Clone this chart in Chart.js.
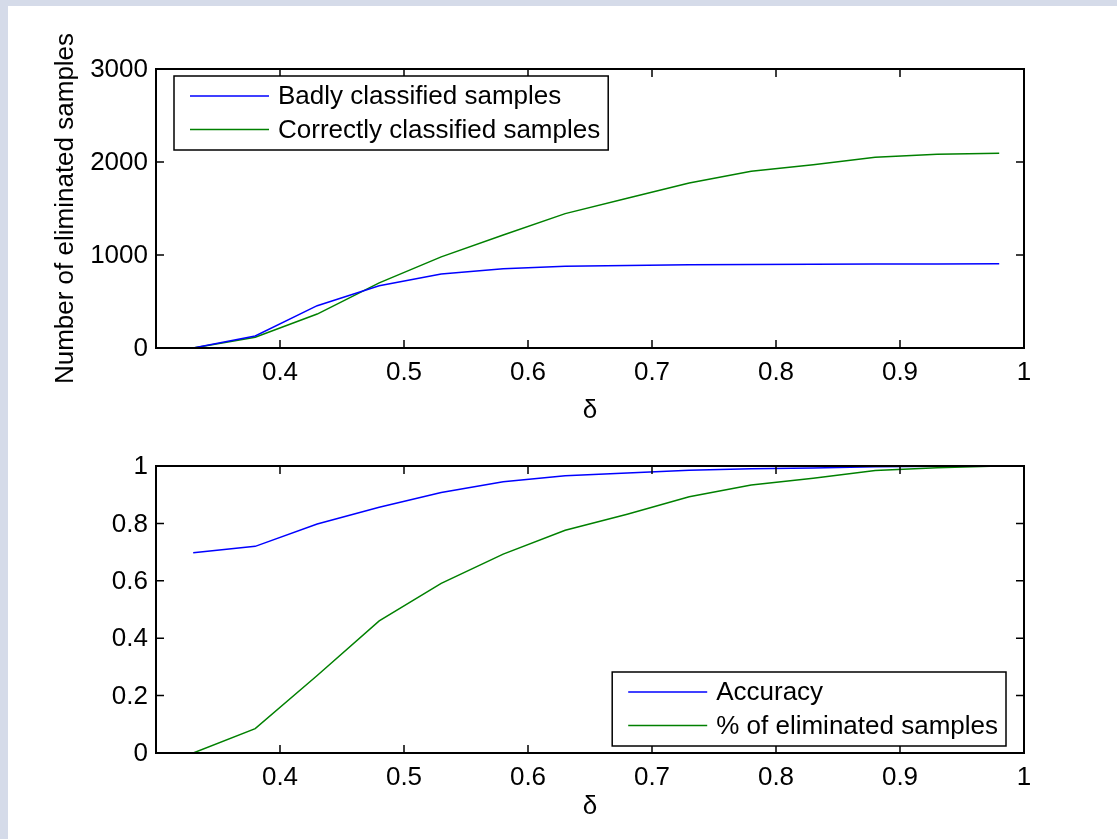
<!DOCTYPE html>
<html lang="en">
<head>
    <meta charset="UTF-8">
    <title>Eliminated samples vs delta</title>
    <script src="https://cdn.jsdelivr.net/npm/chart.js"></script>
    <style>
        body { margin: 0; background: #d5dbe9; width: 1117px; height: 839px; overflow: hidden; position: relative; }
        .panel { position: absolute; left: 8px; top: 6px; right: 0; bottom: 0; background: #fff; }
        canvas { position: absolute; left: 0; }
    </style>
</head>
<body>
    <div class="panel"></div>
    <canvas id="countChart" width="1117" height="440" style="top:0"></canvas>
    <canvas id="ratioChart" width="1117" height="399" style="top:440px"></canvas>
    <script>
// delta values on the x axis
const delta = [0.33, 0.38, 0.43, 0.48, 0.53, 0.58, 0.63, 0.68, 0.73, 0.78, 0.83, 0.88, 0.93, 0.98];

// top plot: number of eliminated samples
const badlyClassified = [0, 130, 455, 670, 795, 853, 878, 888, 895, 898, 900, 902, 903, 905];
const correctlyClassified = [0, 115, 365, 700, 980, 1215, 1445, 1610, 1775, 1900, 1970, 2050, 2083, 2095];

// bottom plot
const accuracy = [0.698, 0.72, 0.798, 0.856, 0.908, 0.945, 0.966, 0.976, 0.985, 0.99, 0.993, 0.997, 0.999, 1.0];
const eliminatedShare = [0, 0.085, 0.27, 0.46, 0.591, 0.693, 0.776, 0.832, 0.893, 0.934, 0.957, 0.984, 0.994, 1.0];

// ticks
const xTickValues = [0.4, 0.5, 0.6, 0.7, 0.8, 0.9, 1];
const xTickLabels = ['0.4', '0.5', '0.6', '0.7', '0.8', '0.9', '1'];
const countTickValues = [0, 1000, 2000, 3000];
const countTickLabels = ['0', '1000', '2000', '3000'];
const ratioTickValues = [0, 0.2, 0.4, 0.6, 0.8, 1];
const ratioTickLabels = ['0', '0.2', '0.4', '0.6', '0.8', '1'];

const BLUE = 'rgb(0,0,255)';
const GREEN = 'rgb(0,128,0)';
const FONT = 'Liberation Sans, Arial, Helvetica, sans-serif';
const FS = 26;

function points(ys) {
    return delta.map((d, i) => ({ x: d, y: ys[i] }));
}

// box, inward ticks and legend, MATLAB style
const framePlugin = {
    id: 'frame',
    afterDatasetsDraw(chart, args, opts) {
        const { ctx, chartArea: a, scales } = chart;
        const x = scales.x, y = scales.y;
        ctx.save();
        ctx.strokeStyle = '#000';
        ctx.lineWidth = 1.5;
        ctx.beginPath();
        xTickValues.forEach(v => {
            const px = x.getPixelForValue(v);
            if (px >= a.right - 1) return;
            ctx.moveTo(px, a.bottom); ctx.lineTo(px, a.bottom - 8);
            ctx.moveTo(px, a.top); ctx.lineTo(px, a.top + 8);
        });
        y.ticks.forEach(t => {
            const py = y.getPixelForValue(t.value);
            if (py <= a.top + 1 || py >= a.bottom - 1) return;
            ctx.moveTo(a.left, py); ctx.lineTo(a.left + 8, py);
            ctx.moveTo(a.right, py); ctx.lineTo(a.right - 8, py);
        });
        ctx.stroke();
        ctx.lineWidth = 2;
        ctx.strokeRect(a.left, a.top, a.right - a.left, a.bottom - a.top);

        // legend
        ctx.font = FS + 'px ' + FONT;
        const labels = chart.data.datasets.map(ds => ds.label);
        const tw = Math.max(...labels.map(l => ctx.measureText(l).width));
        const w = 104 + tw + 8, h = 74;
        let lx, ly;
        if (opts.corner === 'br') {
            lx = a.right - 18 - w; ly = a.bottom - 7 - h;
        } else {
            lx = a.left + 18; ly = a.top + 7;
        }
        ctx.fillStyle = '#fff';
        ctx.fillRect(lx, ly, w, h);
        ctx.lineWidth = 1.5;
        ctx.strokeStyle = '#000';
        ctx.strokeRect(lx, ly, w, h);
        chart.data.datasets.forEach((ds, i) => {
            const ry = ly + 20 + i * 33.5;
            ctx.strokeStyle = ds.borderColor;
            ctx.lineWidth = 1.5;
            ctx.beginPath();
            ctx.moveTo(lx + 16, ry); ctx.lineTo(lx + 95, ry);
            ctx.stroke();
            ctx.fillStyle = '#000';
            ctx.textBaseline = 'middle';
            ctx.textAlign = 'left';
            ctx.fillText(ds.label, lx + 104, ry + 1);
        });
        ctx.restore();
    }
};

function makeChart(id, datasets, yMin, yMax, yTicks, yLabels, yTitle, corner, padTop, xHeight, titlePad) {
    const ctx = document.getElementById(id).getContext('2d');
    return new Chart(ctx, {
        type: 'line',
        data: { datasets: datasets },
        options: {
            responsive: false,
            animation: false,
            layout: { padding: { top: padTop, right: 93, left: 0, bottom: 0 } },
            elements: { point: { radius: 0 }, line: { tension: 0, borderWidth: 1.5 } },
            plugins: {
                legend: { display: false },
                tooltip: { enabled: false },
                frame: { corner: corner }
            },
            scales: {
                x: {
                    type: 'linear',
                    min: 0.3,
                    max: 1,
                    afterBuildTicks: s => { s.ticks = xTickValues.map(v => ({ value: v })); },
                    afterFit: s => { s.height = xHeight; },
                    ticks: {
                        padding: 9,
                        color: '#000',
                        font: { family: FONT, size: FS },
                        maxRotation: 0,
                        autoSkip: false,
                        callback: (v, i) => xTickLabels[i]
                    },
                    grid: { display: false, drawTicks: false },
                    border: { display: false },
                    title: {
                        display: true,
                        text: 'δ',
                        color: '#000',
                        font: { family: FONT, size: FS },
                        padding: { top: 0, bottom: titlePad }
                    }
                },
                y: {
                    min: yMin,
                    max: yMax,
                    afterBuildTicks: s => { s.ticks = yTicks.map(v => ({ value: v })); },
                    afterFit: s => { s.width = 156; },
                    ticks: {
                        padding: 8,
                        labelOffset: 1,
                        color: '#000',
                        font: { family: FONT, size: FS },
                        autoSkip: false,
                        callback: (v, i) => yLabels[i]
                    },
                    grid: { display: false, drawTicks: false },
                    border: { display: false },
                    title: {
                        display: !!yTitle,
                        text: yTitle,
                        color: '#000',
                        font: { family: FONT, size: FS },
                        padding: { top: 50, bottom: 0 }
                    }
                }
            }
        },
        plugins: [framePlugin]
    });
}

makeChart('countChart', [
    { label: 'Badly classified samples', data: points(badlyClassified), borderColor: BLUE, backgroundColor: BLUE },
    { label: 'Correctly classified samples', data: points(correctlyClassified), borderColor: GREEN, backgroundColor: GREEN }
], 0, 3000, countTickValues, countTickLabels, 'Number of eliminated samples', 'tl', 69, 92, 14);

makeChart('ratioChart', [
    { label: 'Accuracy', data: points(accuracy), borderColor: BLUE, backgroundColor: BLUE },
    { label: '% of eliminated samples', data: points(eliminatedShare), borderColor: GREEN, backgroundColor: GREEN }
], 0, 1, ratioTickValues, ratioTickLabels, '', 'br', 26, 86, 17);
    </script>
</body>
</html>
